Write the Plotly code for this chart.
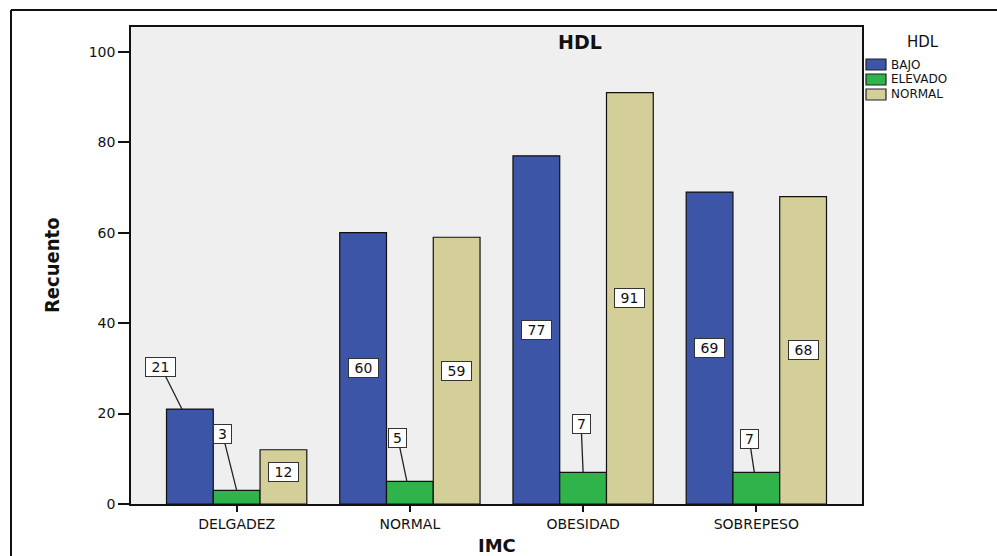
import plotly.graph_objects as go

# Counts of HDL level by BMI category
categorias = ["DELGADEZ", "NORMAL", "OBESIDAD", "SOBREPESO"]
series = ["BAJO", "ELEVADO", "NORMAL"]
bajo = [21, 60, 77, 69]
elevado = [3, 5, 7, 7]
normal = [12, 59, 91, 68]
y_ticks = [0, 20, 40, 60, 80, 100]

valores = [bajo, elevado, normal]
colores = ["#3d55a6", "#2fb44b", "#d4cf99"]

# Layout geometry (pixels)
W, H = 997, 556
ML, MR, MT, MB = 131, 135, 27, 52
PW, PH = W - ML - MR, H - MT - MB
BARGAP = 0.19
X_PAD = 0.61
Y_MAX = 105.5
bar_w = (1 - BARGAP) / len(series)

FONT = "DejaVu Sans, Arial, sans-serif"

fig = go.Figure()
for j, (nombre, vals, col) in enumerate(zip(series, valores, colores)):
    fig.add_trace(go.Bar(
        name=nombre,
        x=list(range(len(categorias))),
        y=vals,
        marker=dict(color=col, line=dict(color="#111111", width=1.2)),
        showlegend=False,
        hoverinfo="x+y+name",
    ))

# Callout labels with leader lines: (tip shift px, label dx px, label dy px)
callouts = {
    (0, 0): (-8, -21, -42),
    (0, 1): (0, -14, -56),
    (1, 1): (-3, -9, -43),
    (2, 1): (0, -2, -48),
    (3, 1): (-2, -5, -33),
}
# Small vertical nudges for labels drawn inside bars
inner_shift = {(0, 2): 5}

annotations = []
for j, vals in enumerate(valores):
    for i, v in enumerate(vals):
        xc = i + (j - 1) * bar_w
        txt = str(v)
        box_w = 15 if len(txt) == 1 else 27
        common = dict(
            text=txt, font=dict(family=FONT, size=14, color="#111111"),
            bgcolor="white", bordercolor="#333333", borderwidth=1,
            borderpad=1, width=box_w, xref="x", yref="y",
            xanchor="center", yanchor="middle",
        )
        if (i, j) in callouts:
            tip_dx, ax, ay = callouts[(i, j)]
            annotations.append(dict(
                x=xc, y=v, xshift=tip_dx, showarrow=True, arrowhead=0,
                arrowwidth=1.3, arrowcolor="#222222", ax=ax, ay=ay,
                standoff=0, startstandoff=0, **common))
        else:
            annotations.append(dict(
                x=xc, y=v / 2, showarrow=False,
                yshift=inner_shift.get((i, j), 0), **common))


def px_x(px):
    return (px - ML) / PW


def px_y(py):
    return (H - MB - py) / PH


def paper_text(text, x, y, size, family=FONT, **kw):
    d = dict(text=text, x=px_x(x), y=px_y(y), xref="paper", yref="paper",
             showarrow=False, xanchor="center", yanchor="middle",
             font=dict(family=family, size=size, color="#111111"))
    d.update(kw)
    return d


# Titles
annotations.append(paper_text("<b>HDL</b>", 580, 42, 19))
annotations.append(paper_text("<b>IMC</b>", 497, 545, 18))
annotations.append(paper_text(
    "<b>Recuento</b>", 52, 265, 20,
    family="Liberation Sans Narrow, DejaVu Sans Condensed, Arial Narrow, sans-serif",
    textangle=-90))

# Legend block
shapes = []
annotations.append(paper_text("HDL", 923, 42, 15))
for k, (nombre, col) in enumerate(zip(series, colores)):
    y0 = 59 + 15 * k
    shapes.append(dict(type="rect", xref="paper", yref="paper",
                       x0=px_x(866), x1=px_x(886), y0=px_y(y0), y1=px_y(y0 + 11),
                       fillcolor=col, line=dict(color="#222222", width=1.2)))
    annotations.append(paper_text(nombre, 890, y0 + 5.5, 12, xanchor="left", borderpad=0))

# Outer frame (top and left edges)
shapes.append(dict(type="line", xref="paper", yref="paper",
                   x0=px_x(11), x1=px_x(W + 5), y0=px_y(10), y1=px_y(10),
                   line=dict(color="#111111", width=2)))
shapes.append(dict(type="line", xref="paper", yref="paper",
                   x0=px_x(11), x1=px_x(11), y0=px_y(10), y1=px_y(H + 5),
                   line=dict(color="#111111", width=2)))

fig.update_layout(
    width=W, height=H,
    margin=dict(l=ML, r=MR, t=MT, b=MB, pad=0),
    paper_bgcolor="white",
    plot_bgcolor="#efefef",
    barmode="group",
    bargap=BARGAP,
    bargroupgap=0,
    annotations=annotations,
    shapes=shapes,
    font=dict(family=FONT, color="#111111"),
)
fig.update_xaxes(
    range=[-X_PAD, len(categorias) - 1 + X_PAD],
    tickvals=list(range(len(categorias))), ticktext=categorias,
    ticks="outside", ticklen=6, tickwidth=1.5, tickcolor="#111111",
    tickfont=dict(family=FONT, size=14, color="#111111"),
    showline=True, linecolor="#111111", linewidth=1.5, mirror=True,
    showgrid=False, zeroline=False, fixedrange=True,
)
fig.update_yaxes(
    range=[0, Y_MAX], tickvals=y_ticks,
    ticks="outside", ticklen=11, tickwidth=1.5, tickcolor="#111111",
    tickfont=dict(family=FONT, size=14, color="#111111"),
    showline=True, linecolor="#111111", linewidth=1.5, mirror=True,
    showgrid=False, zeroline=False, fixedrange=True,
)

fig.write_html("out.html")
